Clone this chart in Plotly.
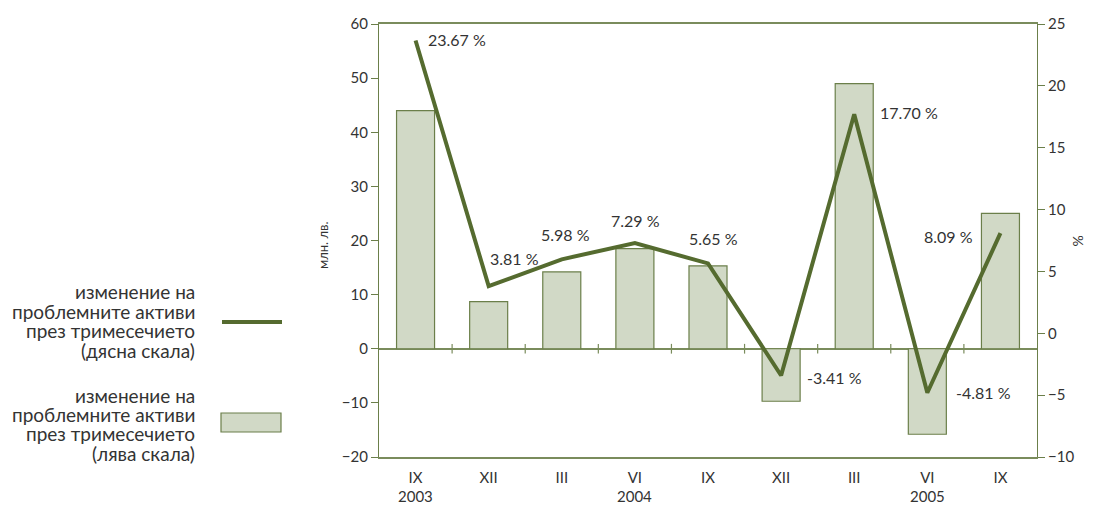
import plotly.graph_objects as go

quarters = ["IX", "XII", "III", "VI", "IX", "XII", "III", "VI", "IX"]
years = ["2003", "2004", "2005"]
year_pos = [0, 3, 7]
bars_mln = [44.0, 8.7, 14.2, 18.5, 15.3, -9.7, 49.0, -15.8, 25.0]
change_pct = [23.67, 3.81, 5.98, 7.29, 5.65, -3.41, 17.70, -4.81, 8.09]
# label placement style per point (dx px, rise px, anchor)
label_style = [(10, 1, "left"), (-1, 28, "left"), (4, 25, "center"), (1, 23, "center"),
               (5, 25, "center"), (24, -2, "left"), (24, 2, "left"), (27, 0, "left"), (-25, -3, "right")]

FONT = "Lato, 'Noto Sans', sans-serif"
LINE_C = "#556B2F"
BAR_FILL = "#D1D9C6"
BAR_EDGE = "#6B7F4A"
AXIS_C = "#7A8C5C"
TXT = "#333333"

x = list(range(len(quarters)))

fig = go.Figure()
fig.add_trace(go.Bar(x=x, y=bars_mln, width=0.52, marker=dict(color=BAR_FILL, line=dict(color=BAR_EDGE, width=1.2)),
                     yaxis="y", showlegend=False, hoverinfo="skip"))
fig.add_trace(go.Scatter(x=x, y=change_pct, mode="lines", line=dict(color=LINE_C, width=4),
                         yaxis="y2", showlegend=False, hoverinfo="skip"))

for i, v in enumerate(change_pct):
    dx, rise, anc = label_style[i]
    fig.add_annotation(x=i, y=v, yref="y2", text=f"{v:.2f} %", showarrow=False, xanchor=anc, yanchor="middle",
                       xshift=dx, yshift=rise, font=dict(family=FONT, size=16, color=TXT))

# category-boundary tick marks on the zero line
for k in range(len(quarters) - 1):
    fig.add_shape(type="line", x0=k + 0.5, x1=k + 0.5, y0=-0.9, y1=0.9, xref="x", yref="y",
                  line=dict(color=AXIS_C, width=1.2))

for yr, p in zip(years, year_pos):
    fig.add_annotation(x=p, y=0, yref="paper", text=yr, showarrow=False, yshift=-39, yanchor="middle",
                       font=dict(family=FONT, size=15, color=TXT))

W, H = 1097, 505
def px(xp):
    return (xp - 379) / (1037 - 379)
def py(yp):
    return (457 - yp) / (457 - 24)

# axis titles
fig.add_annotation(x=px(313), y=py(245), xref="paper", yref="paper", text="млн. лв.", showarrow=False, textangle=-90,
                   font=dict(family=FONT, size=13, color=TXT))
fig.add_annotation(x=px(1088), y=py(241), xref="paper", yref="paper", text="%", showarrow=False, textangle=-90,
                   font=dict(family=FONT, size=14, color=TXT))

# custom legend
legend_items = [
    (["изменение на", "проблемните активи", "през тримесечието", "(дясна скала)"], "line"),
    (["изменение на", "проблемните активи", "през тримесечието", "(лява скала)"], "rect"),
]
legend_tops = [292, 395]
for (lines, kind), y0 in zip(legend_items, legend_tops):
    for j, ln in enumerate(lines):
        fig.add_annotation(x=px(197), y=py(y0 + 19.4 * j), xref="paper", yref="paper", text=ln, showarrow=False,
                           xanchor="right", yanchor="middle", align="right",
                           font=dict(family=FONT, size=19, color=TXT))
    if kind == "line":
        fig.add_shape(type="line", x0=px(222), x1=px(282), y0=py(322), y1=py(322), xref="paper", yref="paper",
                      line=dict(color=LINE_C, width=4))
    else:
        fig.add_shape(type="rect", x0=px(221), x1=px(281), y0=py(432), y1=py(413), xref="paper", yref="paper",
                      fillcolor=BAR_FILL, line=dict(color=BAR_EDGE, width=1.2))

fig.update_layout(
    width=W, height=H, margin=dict(l=379, r=60, t=24, b=48, autoexpand=False),
    paper_bgcolor="white", plot_bgcolor="white",
    font=dict(family=FONT, size=15, color=TXT),
    hovermode=False,
    xaxis=dict(range=[-0.5, 8.5], tickvals=x, ticktext=quarters, showline=True, mirror=True,
               linecolor=AXIS_C, linewidth=1.5, showgrid=False, zeroline=False, ticks="", ticklabelstandoff=6,
               tickfont=dict(family=FONT, size=15, color=TXT)),
    yaxis=dict(range=[-20, 60], dtick=10, showline=True, linecolor=BAR_EDGE, linewidth=1.2, ticks="outside",
               ticklen=7, tickcolor=BAR_EDGE, showgrid=False, zeroline=True, zerolinecolor=AXIS_C, zerolinewidth=1.5,
               automargin=False, tickfont=dict(family=FONT, size=15, color=TXT)),
    yaxis2=dict(range=[-10, 25], dtick=5, overlaying="y", side="right", showline=True, linecolor=BAR_EDGE,
                linewidth=1.2, ticks="outside", ticklen=7, tickcolor=BAR_EDGE, showgrid=False, zeroline=False,
                automargin=False, tickfont=dict(family=FONT, size=15, color=TXT)),
)

fig.write_html("out.html", config={"displayModeBar": False},
               post_script="document.body.style.margin='0';document.body.style.overflow='hidden';")
